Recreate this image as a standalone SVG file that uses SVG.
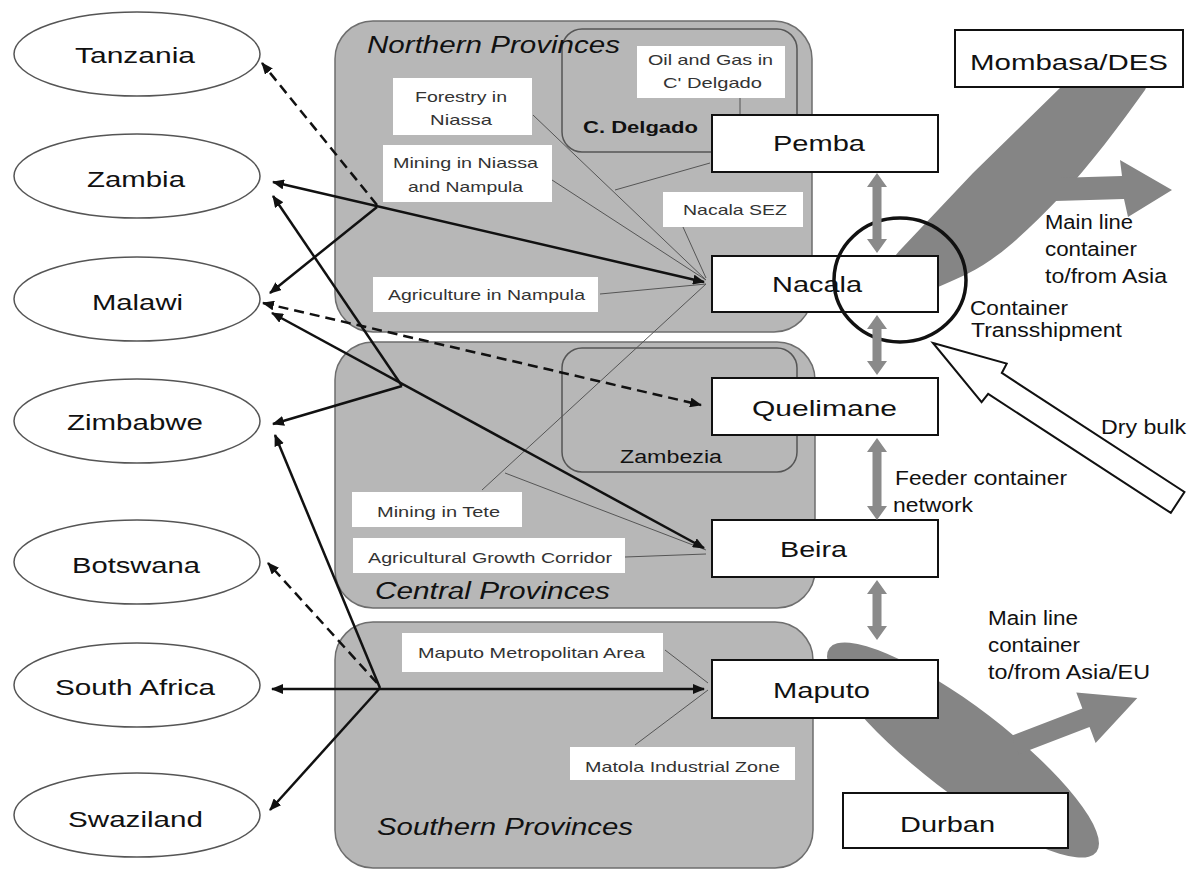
<svg xmlns="http://www.w3.org/2000/svg" width="1194" height="870" viewBox="0 0 1194 870">
<style>
text{font-family:"Liberation Sans",Arial,sans-serif;fill:#111}
.region{fill:#b7b7b7;stroke:#6e6e6e;stroke-width:1.5}
.sub{fill:#b7b7b7;stroke:#555;stroke-width:1.5}
.lbl{fill:#fff;stroke:none}
.lt{font-size:15px;fill:#333}
.country{fill:#fff;stroke:#555;stroke-width:1.5}
.ct{font-size:22px}
.port{fill:#fff;stroke:#111;stroke-width:2}
.pt{font-size:22px}
.title{font-size:23px;font-style:italic}
.rt{font-size:20px}
.thick{fill:none;stroke:#111;stroke-width:2.5}
.dash{stroke-dasharray:10 6}
.thin{fill:none;stroke:#555;stroke-width:1}
.gray{fill:#858585;stroke:none}
.dbl{fill:#8a8a8a;stroke:none}
</style>
<defs>
<marker id="ah" viewBox="0 0 12 10" refX="11" refY="5" markerWidth="12" markerHeight="10" markerUnits="userSpaceOnUse" orient="auto-start-reverse"><path d="M0,0 L12,5 L0,10 Z" fill="#111"/></marker>
</defs>
<rect width="1194" height="870" fill="#fff"/>

<g id="regions">
<g id="northern"><rect class="region" x="335" y="21" width="477" height="311" rx="38"/></g>
<g id="central"><rect class="region" x="335" y="342" width="480" height="266" rx="38"/></g>
<g id="southern"><rect class="region" x="335" y="622" width="478" height="246" rx="38"/></g>
<g id="cdelgado"><rect class="sub" x="562" y="29" width="235" height="123" rx="20"/></g>
<g id="zambezia"><rect class="sub" x="562" y="348" width="235" height="124" rx="20"/></g>
</g>

<g id="labels">
<g id="lbl-oil"><rect class="lbl" x="637" y="46" width="148" height="52"/><text class="lt" x="648" y="65" textLength="125" lengthAdjust="spacingAndGlyphs">Oil and Gas in</text><text class="lt" x="663" y="88" textLength="99" lengthAdjust="spacingAndGlyphs">C' Delgado</text></g>
<g id="lbl-forestry"><rect class="lbl" x="393" y="78" width="139" height="57"/><text class="lt" x="415" y="102" textLength="92" lengthAdjust="spacingAndGlyphs">Forestry in</text><text class="lt" x="430" y="125" textLength="62" lengthAdjust="spacingAndGlyphs">Niassa</text></g>
<g id="lbl-mining-niassa"><rect class="lbl" x="383" y="145" width="169" height="57"/><text class="lt" x="393" y="168" textLength="145" lengthAdjust="spacingAndGlyphs">Mining in Niassa</text><text class="lt" x="408" y="192" textLength="115" lengthAdjust="spacingAndGlyphs">and Nampula</text></g>
<g id="lbl-sez"><rect class="lbl" x="663" y="192" width="140" height="35"/><text class="lt" x="683" y="215" textLength="104" lengthAdjust="spacingAndGlyphs">Nacala SEZ</text></g>
<g id="lbl-agri-nampula"><rect class="lbl" x="373" y="277" width="225" height="35"/><text class="lt" x="388" y="300" textLength="197" lengthAdjust="spacingAndGlyphs">Agriculture in Nampula</text></g>
<g id="lbl-mining-tete"><rect class="lbl" x="352" y="492" width="170" height="35"/><text class="lt" x="377" y="517" textLength="123" lengthAdjust="spacingAndGlyphs">Mining in Tete</text></g>
<g id="lbl-agri-corridor"><rect class="lbl" x="353" y="538" width="272" height="35"/><text class="lt" x="368" y="563" textLength="244" lengthAdjust="spacingAndGlyphs">Agricultural Growth Corridor</text></g>
<g id="lbl-maputo-metro"><rect class="lbl" x="402" y="633" width="261" height="39"/><text class="lt" x="418" y="658" textLength="227" lengthAdjust="spacingAndGlyphs">Maputo Metropolitan Area</text></g>
<g id="lbl-matola"><rect class="lbl" x="570" y="747" width="225" height="33"/><text class="lt" x="585" y="772" textLength="195" lengthAdjust="spacingAndGlyphs">Matola Industrial Zone</text></g>
</g>

<g id="region-titles">
<text class="title" x="367" y="53" textLength="253" lengthAdjust="spacingAndGlyphs">Northern Provinces</text>
<text class="title" x="375" y="599" textLength="235" lengthAdjust="spacingAndGlyphs">Central Provinces</text>
<text class="title" x="377" y="835" textLength="256" lengthAdjust="spacingAndGlyphs">Southern Provinces</text>
<text x="583" y="133" font-size="17" font-weight="bold" textLength="115" lengthAdjust="spacingAndGlyphs">C. Delgado</text>
<text x="620" y="463" font-size="18" textLength="102" lengthAdjust="spacingAndGlyphs">Zambezia</text>
</g>

<g id="countries">
<g id="tanzania"><ellipse class="country" cx="137" cy="54" rx="123" ry="42"/><text class="ct" x="75" y="63" textLength="120" lengthAdjust="spacingAndGlyphs">Tanzania</text></g>
<g id="zambia"><ellipse class="country" cx="137" cy="176" rx="123" ry="42"/><text class="ct" x="87" y="187" textLength="98" lengthAdjust="spacingAndGlyphs">Zambia</text></g>
<g id="malawi"><ellipse class="country" cx="137" cy="299" rx="123" ry="42"/><text class="ct" x="92" y="310" textLength="91" lengthAdjust="spacingAndGlyphs">Malawi</text></g>
<g id="zimbabwe"><ellipse class="country" cx="137" cy="421" rx="123" ry="42"/><text class="ct" x="67" y="430" textLength="136" lengthAdjust="spacingAndGlyphs">Zimbabwe</text></g>
<g id="botswana"><ellipse class="country" cx="137" cy="562" rx="123" ry="42"/><text class="ct" x="72" y="573" textLength="128" lengthAdjust="spacingAndGlyphs">Botswana</text></g>
<g id="south-africa"><ellipse class="country" cx="137" cy="685" rx="123" ry="42"/><text class="ct" x="55" y="695" textLength="160" lengthAdjust="spacingAndGlyphs">South Africa</text></g>
<g id="swaziland"><ellipse class="country" cx="137" cy="815" rx="123" ry="42"/><text class="ct" x="68" y="827" textLength="135" lengthAdjust="spacingAndGlyphs">Swaziland</text></g>
</g>

<g id="connectors">
<line class="thin" x1="533" y1="115" x2="706" y2="280"/>
<line class="thin" x1="552" y1="180" x2="706" y2="280"/>
<line class="thin" x1="683" y1="227" x2="706" y2="278"/>
<line class="thin" x1="600" y1="294" x2="706" y2="284"/>
<line class="thin" x1="482" y1="490" x2="706" y2="284"/>
<line class="thin" x1="505" y1="473" x2="706" y2="550"/>
<line class="thin" x1="625" y1="557" x2="706" y2="554"/>
<line class="thin" x1="615" y1="190" x2="710" y2="163"/>
<line class="thin" x1="740" y1="98" x2="740" y2="115"/>
<line class="thin" x1="665" y1="650" x2="708" y2="683"/>
<line class="thin" x1="635" y1="745" x2="708" y2="690"/>

<line class="thick" x1="273" y1="182" x2="704" y2="282" marker-start="url(#ah)" marker-end="url(#ah)"/>
<line class="thick" x1="377" y1="207" x2="270" y2="293" marker-end="url(#ah)"/>
<line class="thick dash" x1="377" y1="205" x2="262" y2="63" marker-end="url(#ah)"/>
<line class="thick" x1="272" y1="313" x2="704" y2="548" marker-start="url(#ah)" marker-end="url(#ah)"/>
<line class="thick" x1="402" y1="386" x2="273" y2="196" marker-end="url(#ah)"/>
<line class="thick" x1="402" y1="386" x2="273" y2="424" marker-end="url(#ah)"/>
<line class="thick dash" x1="263" y1="303" x2="701" y2="405" marker-start="url(#ah)" marker-end="url(#ah)"/>
<line class="thick" x1="272" y1="689" x2="704" y2="689" marker-start="url(#ah)" marker-end="url(#ah)"/>
<line class="thick" x1="380" y1="688" x2="275" y2="435" marker-end="url(#ah)"/>
<line class="thick" x1="380" y1="688" x2="270" y2="810" marker-end="url(#ah)"/>
<line class="thick dash" x1="377" y1="683" x2="268" y2="563" marker-end="url(#ah)"/>
</g>

<g id="shipping">
<path class="gray" d="M890,295 C878,285 885,265 903,247 L973,173 L1062,86 L1080,55 L1160,55 L1145,90 C1120,125 1090,165 1060,197 C1030,228 1000,258 967,274 C940,287 905,302 890,295 Z"/>
<polygon class="gray" points="1055,178 1122,176 1120,160 1172,190 1128,217 1124,199 1055,201"/>
<ellipse class="gray" cx="963" cy="750" rx="168" ry="43" transform="rotate(37.4 963 750)"/>
<polygon class="gray" points="0,-10 76,-10 76,-27 131,0 76,27 76,10 0,10" transform="translate(1015,745) rotate(-21)"/>
</g>

<g id="ports">
<g id="mombasa"><rect class="port" x="955" y="30" width="228" height="57" stroke-width="1.5"/><text class="pt" x="970" y="70" textLength="198" lengthAdjust="spacingAndGlyphs">Mombasa/DES</text></g>
<g id="pemba"><rect class="port" x="712" y="115" width="226" height="57"/><text class="pt" x="773" y="151" textLength="92" lengthAdjust="spacingAndGlyphs">Pemba</text></g>
<g id="nacala"><rect class="port" x="712" y="256" width="226" height="56"/><text class="pt" x="772" y="292" textLength="90" lengthAdjust="spacingAndGlyphs">Nacala</text></g>
<g id="quelimane"><rect class="port" x="712" y="378" width="226" height="57"/><text class="pt" x="752" y="416" textLength="145" lengthAdjust="spacingAndGlyphs">Quelimane</text></g>
<g id="beira"><rect class="port" x="712" y="520" width="226" height="57"/><text class="pt" x="780" y="557" textLength="67" lengthAdjust="spacingAndGlyphs">Beira</text></g>
<g id="maputo"><rect class="port" x="712" y="660" width="226" height="58"/><text class="pt" x="773" y="698" textLength="97" lengthAdjust="spacingAndGlyphs">Maputo</text></g>
<g id="durban"><rect class="port" x="843" y="793" width="225" height="55" stroke-width="1.5"/><text class="pt" x="900" y="832" textLength="95" lengthAdjust="spacingAndGlyphs">Durban</text></g>
</g>

<g id="transshipment">
<ellipse cx="900" cy="280" rx="66" ry="62" fill="none" stroke="#111" stroke-width="3.5"/>
<text class="rt" x="970" y="315" textLength="98" lengthAdjust="spacingAndGlyphs">Container</text>
<text class="rt" x="971" y="337" textLength="151" lengthAdjust="spacingAndGlyphs">Transshipment</text>
</g>

<g id="feeder-arrows">
<polygon class="dbl" points="877,173 887,187 881.5,187 881.5,239 887,239 877,253 867,239 872.5,239 872.5,187 867,187"/>
<polygon class="dbl" points="877,315 887,329 881.5,329 881.5,361 887,361 877,375 867,361 872.5,361 872.5,329 867,329"/>
<polygon class="dbl" points="877,438 887,452 881.5,452 881.5,506 887,506 877,520 867,506 872.5,506 872.5,452 867,452"/>
<polygon class="dbl" points="877,580 887,594 881.5,594 881.5,626 887,626 877,640 867,626 872.5,626 872.5,594 867,594"/>
</g>

<g id="dry-bulk">
<polygon points="0,0 73,-23 74,-12.5 292,-12.5 292,12.5 74,12.5 73,23" transform="translate(933,343) rotate(33.1)" fill="#fff" stroke="#111" stroke-width="2" stroke-linejoin="miter"/>
<text class="rt" x="1101" y="434" textLength="85" lengthAdjust="spacingAndGlyphs">Dry bulk</text>
</g>

<g id="right-labels">
<text class="rt" x="1045" y="229" textLength="88" lengthAdjust="spacingAndGlyphs">Main line</text>
<text class="rt" x="1045" y="256" textLength="92" lengthAdjust="spacingAndGlyphs">container</text>
<text class="rt" x="1045" y="283" textLength="122" lengthAdjust="spacingAndGlyphs">to/from Asia</text>
<text class="rt" x="895" y="485" textLength="172" lengthAdjust="spacingAndGlyphs">Feeder container</text>
<text class="rt" x="893" y="512" textLength="80" lengthAdjust="spacingAndGlyphs">network</text>
<text class="rt" x="988" y="625" textLength="90" lengthAdjust="spacingAndGlyphs">Main line</text>
<text class="rt" x="988" y="652" textLength="92" lengthAdjust="spacingAndGlyphs">container</text>
<text class="rt" x="988" y="679" textLength="162" lengthAdjust="spacingAndGlyphs">to/from Asia/EU</text>
</g>
</svg>
